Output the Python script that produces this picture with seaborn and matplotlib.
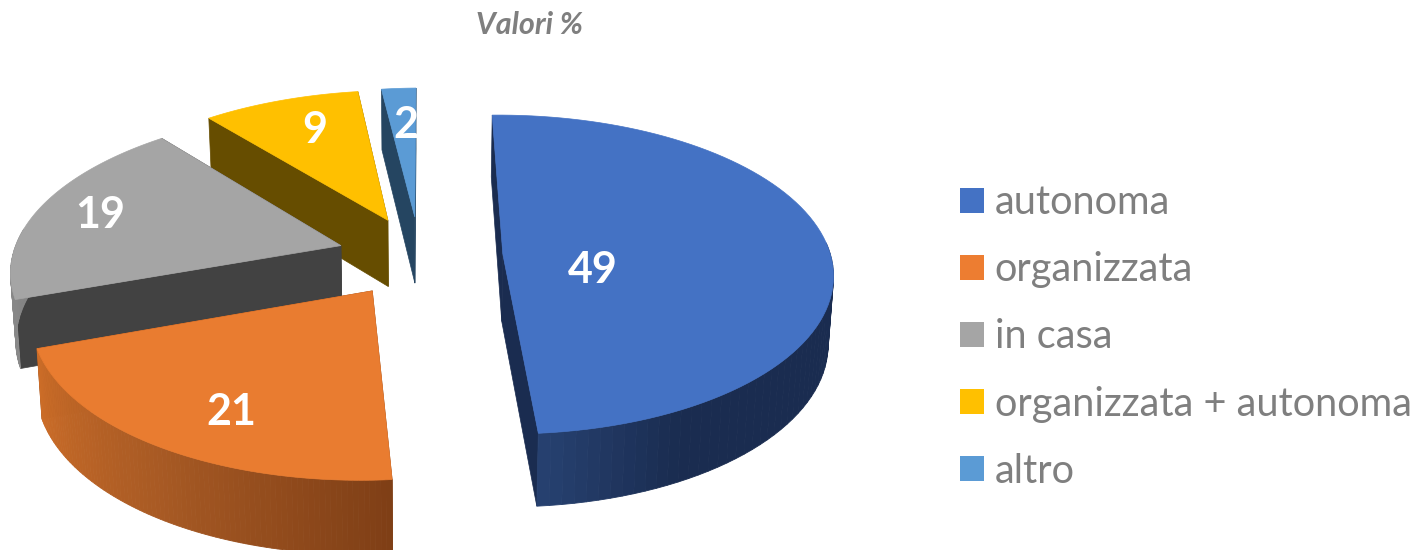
import numpy as np
import seaborn as sns
import matplotlib.pyplot as plt
from matplotlib.patches import Patch

# Data
categories = ["autonoma", "organizzata", "in casa", "organizzata + autonoma", "altro"]
values = [49, 21, 19, 9, 2]
top_colors = ["#4472c4", "#e97c30", "#a5a5a5", "#ffc000", "#5b9bd5"]
legend_colors = ["#4472c4", "#ed7d31", "#a5a5a5", "#ffc000", "#5b9bd5"]
side_colors = ["#1a2c50", "#7f3f16", "#424242", "#664d00", "#254561"]
wall_colors = [
    ["#1a2c50"] * 8 + ["#26406f"],
    ["#7f3f16", "#a85a24", "#cc6d28"],
    ["#8a8a8a", "#7c7c7c"],
    ["#664d00", "#664d00"],
    ["#254561", "#254561"],
]
label_pos = [(593, 267), (231, 409), (100, 212), (315, 127), (406, 122)]

# Pie geometry, in picture pixels
CX, CY = 420, 256
RX, RY = 328, 160
VX = 467
PERSP = 0.129
EXPLODE = 0.253
START = -1.2

sns.set_theme(style="white")
plt.rcParams['font.family'] = ['Lato', 'DejaVu Sans']


def project(t, mid, r=1.0):
    # t and mid in degrees, clockwise from the back of the pie
    t, mid = np.radians(t), np.radians(mid)
    x = EXPLODE * np.sin(mid) + r * np.sin(t)
    y = EXPLODE * np.cos(mid) + r * np.cos(t)
    s = 1 - PERSP * y
    return VX + (CX + RX * x - VX) * s, CY - RY * y * s, y


def drop(px, py, y):
    # same point on the bottom face of the slice
    d = 67.5 - 5.5 * y
    return px + (CX - px) * 0.013, py + d


fig = plt.figure(figsize=(14.17, 5.5), dpi=100)
ax = fig.add_axes([0, 0, 1, 1])
ax.set_xlim(0, 1417)
ax.set_ylim(550, 0)
ax.axis("off")

spans = np.array(values) / sum(values) * 360
starts = START + np.concatenate([[0], np.cumsum(spans)[:-1]])


def draw_slice(i):
    a0, a1 = starts[i], starts[i] + spans[i]
    mid = (a0 + a1) / 2
    ts = np.linspace(a0, a1, 90)
    px, py, y = project(ts, mid)
    tipx, tipy, tipv = project(mid, mid, 0.0)
    bx, by = drop(px, py, y)
    tbx, tby = drop(tipx, tipy, tipv)

    # cut faces
    for j in (0, -1):
        ax.fill([tipx, px[j], bx[j], tbx], [tipy, py[j], by[j], tby],
                color=side_colors[i], lw=0.5)

    # outer wall, shaded along the arc, only where it faces the viewer
    shades = sns.blend_palette(wall_colors[i], n_colors=len(ts) - 1)
    for j, c in enumerate(shades):
        if np.cos(np.radians(ts[j])) > 0.1:
            continue
        ax.fill([px[j], px[j + 1], bx[j + 1], bx[j]],
                [py[j], py[j + 1], by[j + 1], by[j]], color=c, lw=0.6)

    # top face
    ax.fill(np.r_[tipx, px], np.r_[tipy, py], color=top_colors[i], lw=0.5)


# back to front
for i in [4, 3, 2, 0, 1]:
    draw_slice(i)

for v, (lx, ly) in zip(values, label_pos):
    ax.text(lx, ly + 3, str(v), color="white", fontsize=31, fontweight="bold",
            ha="center", va="center")

ax.text(530, 25, "Valori %", color="#7f7f7f", fontsize=22, fontweight="bold",
        fontstyle="italic", ha="center", va="center")

handles = [Patch(facecolor=c, edgecolor="none") for c in legend_colors]
leg = ax.legend(handles, categories, loc="center left",
                bbox_to_anchor=(960 / 1417, 1 - 337 / 550), frameon=False,
                fontsize=28.6, labelcolor="#7f7f7f", handlelength=0.6,
                handleheight=0.6, handletextpad=0.27, labelspacing=0.76,
                borderpad=0, borderaxespad=0)

fig.savefig("out.png", dpi=100, facecolor="white")
